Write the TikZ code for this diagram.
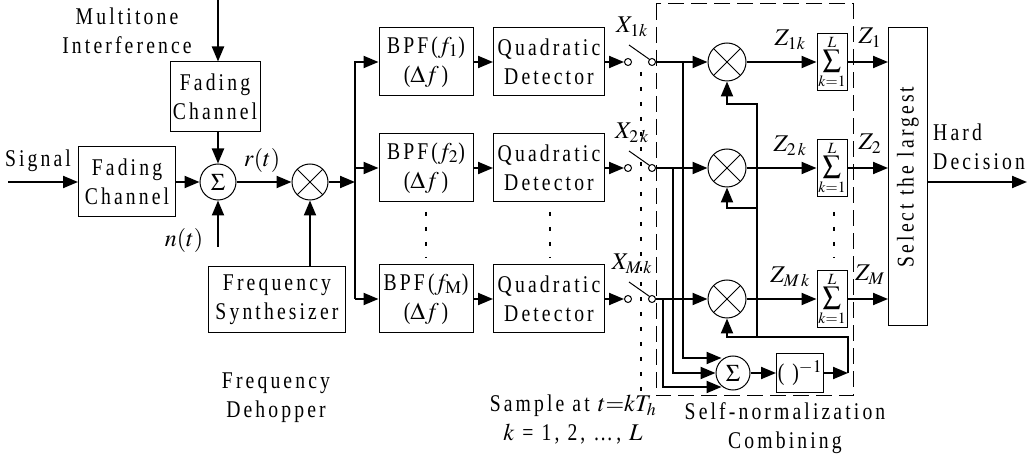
\documentclass[tikz,border=0pt]{standalone}
\usepackage{mathptmx}
\usepackage[no-math]{fontspec}
\setmainfont{Liberation Serif}[FakeStretch=0.82,LetterSpace=13]
\usetikzlibrary{arrows.meta,calc}

\tikzset{
  blk/.style={draw,line width=1pt,align=center,inner sep=0pt},
  crc/.style={draw,line width=1pt,circle,minimum size=36pt,inner sep=0pt},
  mixer/.style={crc,path picture={
      \draw[line width=1pt] (path picture bounding box.north west) -- (path picture bounding box.south east)
        (path picture bounding box.north east) -- (path picture bounding box.south west);}},
  term/.style={draw,line width=1pt,circle,fill=white,minimum size=7pt,inner sep=0pt},
  conn/.style={line width=2pt,-{Triangle[length=15pt,width=12pt]}},
  wire/.style={line width=2pt},
  dots/.style={line width=2.5pt,dash pattern=on 4pt off 11pt},
  lbl/.style={inner sep=0pt,align=center},
}

\begin{document}
\begin{tikzpicture}[x=1pt,y=-1pt,font=\fontsize{24}{29}\selectfont]
\useasboundingbox (0,0) rectangle (1029,462);

% channel and dehopper
\node[lbl] (mti) at (127,31) {Multitone\\Interference};
\coordinate (top) at (218,0);
\node[blk,minimum width=90pt,minimum height=70pt] (fch2) at (215,97) {Fading\\Channel};
\node[blk,minimum width=97pt,minimum height=70pt] (fch1) at (127,182) {Fading\\Channel};
\node[lbl] (sgl) at (38,161) {Signal};
\coordinate (in) at (8,182);
\node[crc] (add) at (218,182) {$\Sigma$};
\coordinate (noise) at (218,247);
\node[lbl] (nt) at (184,241) {$n(t)$};
\node[lbl] (rt) at (262,161) {$r(t)$};
\node[mixer] (mix) at (310,182) {};
\node[blk,minimum width=137pt,minimum height=66pt] (fsyn) at (277,300) {Frequency\\Synthesizer};
\node[lbl] (dehop) at (276,398) {Frequency\\Dehopper};

\draw[conn] (top) -- (fch2.north -| top);
\draw[conn] (fch2.south -| add) -- (add.north);
\draw[conn] (in) -- (fch1);
\draw[conn] (fch1) -- (add);
\draw[conn] (noise) -- (add.south);
\draw[conn] (add) -- (mix);
\draw[conn] (fsyn.north -| mix) -- (mix.south);

% decision
\node[blk,minimum width=39pt,minimum height=298pt] (sel) at (908,177) {\rotatebox{90}{Select the largest}};
\coordinate (out) at (1027,182);
\draw[conn] (sel.east |- out) -- (out);
\node[lbl,align=left,anchor=west] (hd) at (933,147) {Hard\\Decision};

% filter bank
\coordinate (bus) at (355,182);
\coordinate (bus1) at (355,62);
\coordinate (bus2) at (355,168);
\coordinate (bus3) at (355,299);
\draw[conn] (mix) -- (bus);
\foreach \r/\y/\f/\s/\n in {1/62/1/1/1,2/168/2/{2\,}/2,3/299/{\mathrm{M}}/{M\,}/M}{
  \node[blk,minimum width=94pt,minimum height=68pt] (bpf\r) at (426,\y) {BPF($f_{\f}$)\\($\Delta f\,$)};
  \node[blk,minimum width=111pt,minimum height=68pt] (qd\r) at (549,\y) {Quadratic\\Detector};
  \node[term] (sa\r) at (628,\y) {};
  \node[term] (sb\r) at (652,\y) {};
  \node[mixer,minimum size=38pt] (m\r) at (727,\y) {};
  \node[blk,minimum width=30pt,minimum height=57pt,font=\fontsize{26}{28}\selectfont] (acc\r) at (832,\y)
    {\shortstack{$\scriptscriptstyle L$\\[-1pt]$\sum$\\[1pt]$\scriptscriptstyle k=1$}};
  \node[lbl] (x\r) at (632,\y-35) {$X_{\s k}$};
  \node[lbl] (zk\r) at (790,\y-22) {$Z_{\s k}$};
  \node[lbl] (z\r) at (870,\y-24) {$Z_{\n}$};
  \draw[conn] (bpf\r) -- (qd\r);
  \draw[conn] (qd\r) -- (sa\r);
  \draw[line width=1pt] ($(sa\r)+(1,-17)$) -- (sb\r.north west);
  \draw[conn] (sb\r) -- (m\r);
  \draw[conn] (m\r) -- (acc\r);
  \draw[conn] (acc\r) -- (acc\r -| sel.west);
}
\draw[conn] (bus3) -- (bus1) -- (bpf1);
\draw[conn] (bus2) -- (bpf2);
\draw[conn] (bus3) -- (bpf3);

\draw[dots] (426,212) -- (426,258);
\draw[dots] (550,212) -- (550,258);
\draw[dots] (834,212) -- (834,258);
\draw[dots] (641,72) -- (641,392);

% self-normalization
\draw[line width=1pt,dash pattern=on 16pt off 7pt] (656,4) rectangle (853,396);
\node[crc,minimum size=34pt] (sumn) at (733,373) {$\Sigma$};
\node[blk,minimum width=47pt,minimum height=39pt] (inv) at (800,373) {(\,\,)$^{-1}$};
\coordinate (ja) at (683,62);
\coordinate (jb) at (673,168);
\coordinate (jc) at (663,299);
\draw[conn] (ja) |- ([xshift=6pt,yshift=15pt]sumn.west);
\draw[conn] (jb) |- (sumn.west);
\draw[conn] (jc) |- ([xshift=6pt,yshift=-14pt]sumn.west);
\draw[conn] (sumn) -- (inv);
\coordinate (nc) at (848,373);
\coordinate (tap) at (757,337);
\coordinate (fb1) at (727,104);
\coordinate (fb2) at (727,208);
\coordinate (fb3) at (727,337);
\draw[conn] (inv) -- (nc);
\draw[conn] (nc) |- (fb3) -- (m3.south);
\draw[conn] (tap) |- (fb1) -- (m1.south);
\draw[conn] (tap |- fb2) -- (fb2) -- (m2.south);

\node[lbl] (smp) at (573,420) {Sample at $t{=}kT_h$\\$k$ = 1, 2, \ldots, $L$};
\node[lbl] (snc) at (785,428) {Self-normalization\\Combining};
\end{tikzpicture}
\end{document}
